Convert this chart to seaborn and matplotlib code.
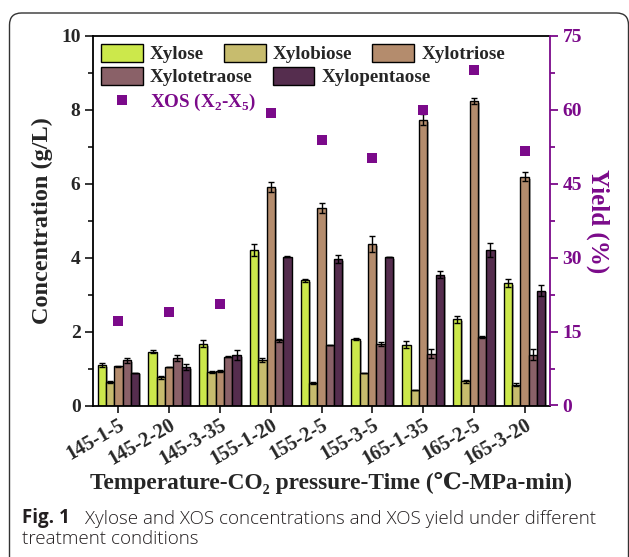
import numpy as np
import pandas as pd
import matplotlib
matplotlib.use("Agg")
import matplotlib.pyplot as plt
import seaborn as sns
from matplotlib.patches import Patch, FancyBboxPatch
from matplotlib.lines import Line2D
from matplotlib import patheffects as pe
from matplotlib.ticker import MultipleLocator
from matplotlib.transforms import IdentityTransform

# ---------------- data ----------------
conditions = ["145-1-5", "145-2-20", "145-3-35", "155-1-20", "155-2-5",
              "155-3-5", "165-1-35", "165-2-5", "165-3-20"]
sugars = ["Xylose", "Xylobiose", "Xylotriose", "Xylotetraose", "Xylopentaose"]

xylose       = [1.10, 1.46, 1.67, 4.20, 3.39, 1.80, 1.65, 2.33, 3.32]
xylobiose    = [0.63, 0.77, 0.91, 1.23, 0.60, 0.89, 0.41, 0.66, 0.56]
xylotriose   = [1.06, 1.04, 0.93, 5.91, 5.35, 4.37, 7.73, 8.24, 6.19]
xylotetraose = [1.22, 1.28, 1.32, 1.76, 1.64, 1.66, 1.40, 1.85, 1.37]
xylopentaose = [0.89, 1.05, 1.36, 4.03, 3.97, 4.01, 3.54, 4.21, 3.11]

xylose_err       = [0.05, 0.05, 0.10, 0.16, 0.04, 0.04, 0.09, 0.10, 0.10]
xylobiose_err    = [0.03, 0.04, 0.02, 0.05, 0.03, 0.00, 0.00, 0.04, 0.04]
xylotriose_err   = [0.02, 0.00, 0.02, 0.14, 0.14, 0.22, 0.15, 0.07, 0.12]
xylotetraose_err = [0.07, 0.08, 0.02, 0.05, 0.00, 0.06, 0.12, 0.03, 0.15]
xylopentaose_err = [0.00, 0.08, 0.13, 0.02, 0.11, 0.00, 0.09, 0.18, 0.14]

xos_yield = [17.1, 19.0, 20.7, 59.3, 53.9, 50.2, 60.0, 68.2, 51.7]

colors = ["#CCE84B", "#C7BC6E", "#B48C6D", "#8A6168", "#552D4E"]
purple = "#7B0A8A"

values = [xylose, xylobiose, xylotriose, xylotetraose, xylopentaose]
errors = [xylose_err, xylobiose_err, xylotriose_err, xylotetraose_err, xylopentaose_err]

df = pd.DataFrame({
    "condition": [c for _ in sugars for c in conditions],
    "sugar": [s for s in sugars for _ in conditions],
    "conc": [v for vals in values for v in vals],
})

# ---------------- style ----------------
sns.set_style("ticks")
plt.rcParams["font.family"] = ["Liberation Serif", "DejaVu Serif"]
plt.rcParams["font.weight"] = "bold"
plt.rcParams["axes.labelweight"] = "bold"
plt.rcParams["mathtext.fontset"] = "custom"
plt.rcParams["mathtext.rm"] = "Liberation Serif"
plt.rcParams["mathtext.bf"] = "Liberation Serif:bold"

W, H = 629, 557
fig = plt.figure(figsize=(W / 100, H / 100), dpi=100)
ax = fig.add_axes([93 / W, 1 - 405.5 / H, (550 - 93) / W, (405.5 - 36) / H])

sns.barplot(data=df, x="condition", y="conc", hue="sugar", order=conditions,
            hue_order=sugars, palette=colors, width=0.82, saturation=1,
            edgecolor="black", linewidth=1.0, errorbar=None, legend=False, ax=ax)

for p in ax.patches:
    p.set_path_effects([pe.SimplePatchShadow(offset=(1.3, -1.3), shadow_rgbFace=(0.55, 0.55, 0.55), alpha=0.7),
                        pe.Normal()])

for cont, errs in zip(ax.containers, errors):
    xs = [b.get_x() + b.get_width() / 2 for b in cont]
    ys = [b.get_height() for b in cont]
    ax.errorbar(xs, ys, yerr=errs, fmt="none", ecolor="black", elinewidth=1.0,
                capsize=2.5, capthick=1.0, zorder=5)

ax.set_ylim(0, 10)
ax.yaxis.set_major_locator(MultipleLocator(2))
ax.yaxis.set_minor_locator(MultipleLocator(1))

ax2 = ax.twinx()
sns.pointplot(x=conditions, y=xos_yield, order=conditions, ax=ax2, color=purple,
              linestyle="none", marker="s", markersize=7.3, markeredgewidth=0,
              errorbar=None)
ax2.set_ylim(0, 75)
ax2.yaxis.set_major_locator(MultipleLocator(15))
ax2.yaxis.set_minor_locator(MultipleLocator(7.5))
ax.set_xlim(-0.5, 8.5)

# spines
lw = 1.3
for s in ["left", "top", "bottom"]:
    ax.spines[s].set_linewidth(lw)
    ax.spines[s].set_color("black")
ax.spines["right"].set_visible(False)
for s in ["left", "top", "bottom"]:
    ax2.spines[s].set_visible(False)
ax2.spines["right"].set_color(purple)
ax2.spines["right"].set_linewidth(lw)

ax.tick_params(axis="y", which="major", direction="out", length=6, width=lw, labelsize=14, pad=3)
ax.tick_params(axis="y", which="minor", direction="out", length=3.5, width=lw)
ax.tick_params(axis="x", which="major", direction="out", length=5, width=lw, labelsize=14.5, pad=2)
ax2.tick_params(axis="y", which="major", direction="out", length=6, width=lw, labelsize=14,
                color=purple, labelcolor=purple, pad=3)
ax2.tick_params(axis="y", which="minor", direction="out", length=3.5, width=lw, color=purple)

ax.set_xticks(range(len(conditions)))
ax.set_xticklabels(conditions, rotation=30, ha="right", va="top", rotation_mode="anchor")

ax.set_xlabel("Temperature-CO\u2082 pressure-Time (\u2103-MPa-min)", fontsize=16.8, labelpad=2)
ax.xaxis.label.set_x(0.52)
ax.set_ylabel("Concentration (g/L)", fontsize=17.5, labelpad=6)
ax2.set_ylabel("Yield (%)", fontsize=18, color=purple, rotation=270, labelpad=20)
ax2.set_xlabel("")

# legends
fs = 13.7
hl, hh, tp, cs = 2.2, 1.05, 0.37, 1.05
row1 = [Patch(facecolor=colors[i], edgecolor="black", linewidth=1) for i in range(3)]
leg1 = ax2.legend(row1, sugars[:3], ncol=3, loc="upper left", bbox_to_anchor=(8 / 457, 1 - 8 / 369.5),
                  frameon=False, fontsize=fs, handlelength=hl, handleheight=hh,
                  handletextpad=tp, columnspacing=cs, borderpad=0, borderaxespad=0)
ax2.add_artist(leg1)
row2 = [Patch(facecolor=colors[i], edgecolor="black", linewidth=1) for i in range(3, 5)]
leg2 = ax2.legend(row2, sugars[3:], ncol=2, loc="upper left", bbox_to_anchor=(8 / 457, 1 - 31 / 369.5),
                  frameon=False, fontsize=fs, handlelength=hl, handleheight=hh,
                  handletextpad=tp, columnspacing=cs, borderpad=0, borderaxespad=0)
ax2.add_artist(leg2)
row3 = [Line2D([], [], linestyle="none", marker="s", markersize=7.3, color=purple, markeredgewidth=0)]
leg3 = ax2.legend(row3, ["XOS (X$_\\mathbf{2}$-X$_\\mathbf{5}$)"], loc="upper left",
                  bbox_to_anchor=(8 / 457, 1 - 56 / 369.5), frameon=False, fontsize=fs,
                  handlelength=hl, handletextpad=tp, borderpad=0, borderaxespad=0)
for t in leg3.get_texts():
    t.set_color(purple)

# caption
cap_font = ["Open Sans", "DejaVu Sans"]
cfs = 13.5
fig.text(22 / W, 1 - 523.5 / H, "Fig. 1", fontsize=cfs, fontweight="bold", family=cap_font,
         color="#231F20", va="baseline")
fig.text(85 / W, 1 - 523.5 / H, "Xylose and XOS concentrations and XOS yield under different",
         fontsize=cfs, fontweight="light", family=cap_font, color="#231F20", va="baseline")
fig.text(22 / W, 1 - 543.5 / H, "treatment conditions", fontsize=cfs, fontweight="light",
         family=cap_font, color="#231F20", va="baseline")

# outer frame
frame = FancyBboxPatch((9.5, -30), 619, 544 + 30, boxstyle="round,pad=0,rounding_size=12",
                       transform=IdentityTransform(), facecolor="none", edgecolor="#333333",
                       linewidth=1.0)
fig.add_artist(frame)

fig.savefig("out.png", dpi=100)
